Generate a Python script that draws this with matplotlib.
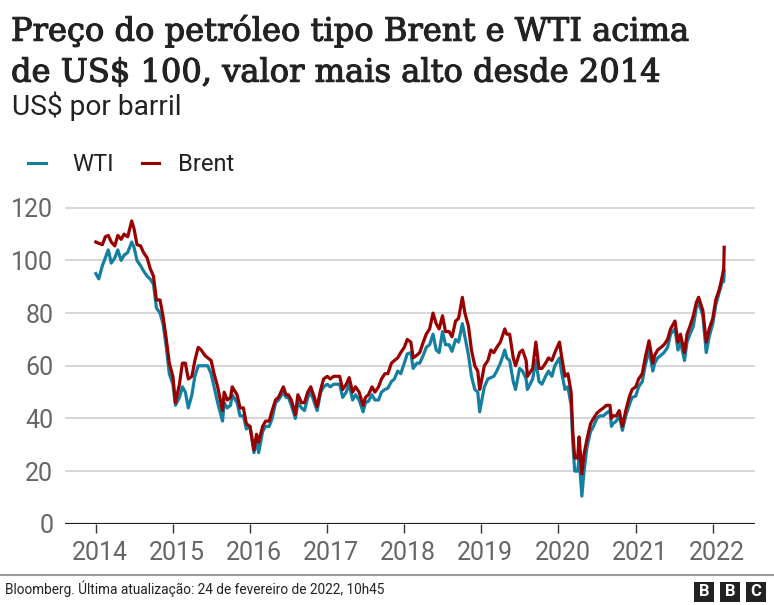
import pandas as pd
import matplotlib
matplotlib.use("Agg")
import matplotlib.pyplot as plt
import matplotlib.patches as patches
import matplotlib.dates as mdates
import matplotlib.patheffects as pe
from matplotlib.lines import Line2D
from matplotlib.transforms import ScaledTranslation

# semi-monthly readings of the chart (US$ per barrel)
dates = [
    "2014-01-01", "2014-01-15", "2014-02-01", "2014-02-15", "2014-03-01", "2014-03-15", "2014-04-01", "2014-04-15",
    "2014-05-01", "2014-05-15", "2014-06-01", "2014-06-20", "2014-07-01", "2014-07-15", "2014-08-01", "2014-08-15",
    "2014-09-01", "2014-09-15", "2014-10-01", "2014-10-15", "2014-11-01", "2014-11-15", "2014-12-01", "2014-12-15",
    "2015-01-01", "2015-01-13", "2015-02-01", "2015-02-15", "2015-03-01", "2015-03-15", "2015-04-01", "2015-04-15",
    "2015-05-01", "2015-05-15", "2015-06-01", "2015-06-15", "2015-07-01", "2015-07-15", "2015-08-01", "2015-08-24",
    "2015-09-01", "2015-09-15", "2015-10-01", "2015-10-09", "2015-11-01", "2015-11-15", "2015-12-01", "2015-12-15",
    "2016-01-01", "2016-01-20", "2016-02-01", "2016-02-11", "2016-03-01", "2016-03-15", "2016-04-01", "2016-04-15",
    "2016-05-01", "2016-05-15", "2016-06-07", "2016-06-20", "2016-07-01", "2016-07-15", "2016-08-03", "2016-08-15",
    "2016-09-01", "2016-09-15", "2016-10-01", "2016-10-15", "2016-11-01", "2016-11-14", "2016-12-01", "2016-12-15",
    "2017-01-01", "2017-01-15", "2017-02-01", "2017-02-15", "2017-03-01", "2017-03-15", "2017-04-01", "2017-04-15",
    "2017-05-01", "2017-05-15", "2017-06-01", "2017-06-20", "2017-07-01", "2017-07-15", "2017-08-01", "2017-08-15",
    "2017-09-01", "2017-09-15", "2017-10-01", "2017-10-15", "2017-11-01", "2017-11-15", "2017-12-01", "2017-12-15",
    "2018-01-01", "2018-01-15", "2018-02-01", "2018-02-12", "2018-03-01", "2018-03-15", "2018-04-01", "2018-04-15",
    "2018-05-01", "2018-05-17", "2018-06-01", "2018-06-15", "2018-07-01", "2018-07-15", "2018-08-01", "2018-08-15",
    "2018-09-01", "2018-09-15", "2018-10-03", "2018-10-15", "2018-11-01", "2018-11-15", "2018-12-01", "2018-12-15",
    "2018-12-24",
    "2019-01-01", "2019-01-15", "2019-02-01", "2019-02-15", "2019-03-01", "2019-03-15", "2019-04-01", "2019-04-22",
    "2019-05-01", "2019-05-15", "2019-06-01", "2019-06-12", "2019-07-01", "2019-07-15", "2019-08-01", "2019-08-07",
    "2019-09-01", "2019-09-16", "2019-10-01", "2019-10-15", "2019-11-01", "2019-11-15", "2019-12-01", "2019-12-15",
    "2020-01-06", "2020-01-15", "2020-02-01", "2020-02-15", "2020-03-01", "2020-03-09", "2020-03-18", "2020-04-01",
    "2020-04-08", "2020-04-21", "2020-04-30", "2020-05-15", "2020-06-01", "2020-06-15", "2020-07-01", "2020-07-15",
    "2020-08-01", "2020-08-15", "2020-09-01", "2020-09-08", "2020-09-15", "2020-10-01", "2020-10-15", "2020-10-30",
    "2020-11-15", "2020-12-01", "2020-12-15",
    "2021-01-01", "2021-01-15", "2021-02-01", "2021-02-15", "2021-03-05", "2021-03-23", "2021-04-01", "2021-04-15",
    "2021-05-01", "2021-05-15", "2021-06-01", "2021-06-15", "2021-07-06", "2021-07-20", "2021-08-01", "2021-08-20",
    "2021-09-01", "2021-09-15", "2021-10-01", "2021-10-15", "2021-10-26", "2021-11-15", "2021-12-01", "2021-12-15",
    "2022-01-01", "2022-01-15", "2022-02-01", "2022-02-15", "2022-02-22", "2022-02-24",
]

brent = [
    107, 106.5, 106, 109, 109.5, 107, 105.5, 109.5, 108, 110, 109, 115, 112, 106, 105.5, 103,
    101, 97, 94, 85, 85, 79, 70, 61,
    56, 46, 53, 61, 61, 55, 56, 62, 67, 66, 64, 63, 62, 57, 52, 43,
    50, 47, 48, 52, 49, 44, 44, 38,
    37, 28, 34, 31, 37, 39, 39, 43, 47, 48, 52, 49, 49, 47, 41.5, 49,
    46, 46, 50, 52, 48, 44.5, 51, 55,
    56, 55, 56, 56, 56, 51, 53, 55.5, 50, 52, 50, 45, 48, 49, 52, 50,
    52, 55, 57, 57, 61, 62, 63, 65,
    67, 70, 69, 63, 64, 65, 69, 72, 74, 80, 76, 74, 79, 73, 73, 71,
    77, 78, 86, 80, 75, 66, 60, 58, 51,
    54, 60, 62, 66, 65, 67, 69, 74, 72, 72, 63, 60, 65, 66, 62, 56,
    59, 69, 59, 59, 61, 63, 62, 65,
    69, 64, 56, 57, 50, 35, 25, 25, 33, 19, 26, 32, 38, 40, 42, 43,
    44, 45, 45, 40, 41, 41, 43, 37, 43, 48, 51,
    52, 55, 57, 63, 69.5, 61, 64, 66, 67, 68, 70, 74, 77, 69, 72, 65,
    72, 75, 79, 84, 86, 81, 69, 74,
    78, 85, 89, 94, 97, 105,
]

wti = [
    95, 93, 98, 101, 104, 99, 101, 104, 100, 102, 103, 107, 105, 100, 98, 96,
    94, 93, 91, 82, 80, 76, 67, 57,
    53, 45, 48, 52, 50, 44, 49, 56, 60, 60, 60, 60, 57, 52, 46, 39,
    46, 44, 45, 49, 46, 41, 41, 36,
    37, 27, 32, 27, 35, 37, 37, 40, 46, 47, 50, 48, 48, 45, 40, 46,
    44, 43, 48, 50, 46, 43, 50, 52,
    53, 52, 53, 53, 53, 48, 50, 53, 47, 49, 47, 42.5, 46, 46.5, 49, 47,
    47, 50, 51, 51.5, 54, 55, 58, 57,
    61, 64.5, 65, 59, 61, 61, 64, 67, 68, 72, 66, 65, 73, 68, 68, 65.5,
    70, 69, 76, 71, 64, 56, 51, 50, 42.5,
    46, 52, 55, 55.5, 56, 58, 61, 66, 63, 62, 54, 51, 59, 58, 55, 51,
    55, 62, 54, 53, 56, 58, 56, 60,
    63, 58, 51, 52, 45, 31, 20, 20, 25, 10.5, 19, 29, 35, 37, 40, 41,
    41, 42, 43, 37, 38, 39, 41, 35.5, 41, 45, 48,
    48.5, 52, 54, 60, 66, 58, 61, 63, 64, 65, 67, 72, 74, 66, 69, 62,
    69, 72, 75, 82, 84, 79, 65, 71,
    76, 83, 88, 92, 92, 96,
]

years = list(range(2014, 2023))
yticks = [0, 20, 40, 60, 80, 100, 120]

title_lines = ["Preço do petróleo tipo Brent e WTI acima",
               "de US$ 100, valor mais alto desde 2014"]
subtitle = "US$ por barril"
source = "Bloomberg. Última atualização: 24 de fevereiro de 2022, 10h45"

WTI_COLOR = "#1380A1"
BRENT_COLOR = "#990000"
TEXT = "#222222"
GREY = "#666666"

W, H = 774, 605
fig = plt.figure(figsize=(W / 100, H / 100), dpi=100)
fig.patch.set_facecolor("white")
plt.rcParams["font.family"] = ["Roboto", "DejaVu Sans"]


def fx(x):
    return x / W


def fy(y):
    return 1 - y / H


# plot area in pixels: x 65..755, y(0)=523.8, 2.633 px per dollar
ax = fig.add_axes([fx(65), fy(523.8), (755 - 65) / W, (523.8 - 202.5) / H])
d = pd.to_datetime(dates)
ax.plot(d, wti, color=WTI_COLOR, lw=2.3, solid_joinstyle="round", zorder=3)
ax.plot(d, brent, color=BRENT_COLOR, lw=2.3, solid_joinstyle="round", zorder=4)

ax.set_ylim(0, 122)
ax.set_xlim(pd.Timestamp("2013-08-08"), pd.Timestamp("2022-07-20"))
ax.set_yticks(yticks)
ax.set_xticks([pd.Timestamp(f"{y}-01-01") for y in years])
ax.xaxis.set_major_formatter(mdates.DateFormatter("%Y"))

for s in ax.spines.values():
    s.set_visible(False)
ax.grid(axis="y", color="#cccccc", lw=1.1)
ax.set_axisbelow(True)
ax.axhline(0, color="#222222", lw=2.3, zorder=5)

ax.tick_params(axis="y", length=0, pad=8.5, labelsize=18, labelcolor=GREY)
ax.tick_params(axis="x", length=6.5, width=1, color="#333333", pad=6,
               labelsize=18, labelcolor=GREY)
for lab in ax.get_xticklabels():
    lab.set_transform(lab.get_transform() + ScaledTranslation(0.04, 0, fig.dpi_scale_trans))

renderer = fig.canvas.get_renderer()


def fit(t, width):
    w = t.get_window_extent(renderer).width
    t.set_fontsize(t.get_fontsize() * width / w)


# title (regular serif thickened a little) and subtitle
medium = [pe.withStroke(linewidth=0.8, foreground=TEXT)]
t1 = fig.text(fx(11), fy(40.7), title_lines[0], family="DejaVu Serif",
              fontsize=22, color=TEXT, va="baseline", path_effects=medium)
fit(t1, 677)
t2 = fig.text(fx(11), fy(81.7), title_lines[1], family="DejaVu Serif",
              fontsize=t1.get_fontsize(), color=TEXT, va="baseline", path_effects=medium)
st = fig.text(fx(12), fy(115), subtitle, fontsize=18, color=TEXT, va="baseline")
fit(st, 170)

# legend
fig.add_artist(Line2D([fx(28), fx(46)], [fy(162.7), fy(162.7)], color=WTI_COLOR, lw=2.2))
fig.text(fx(72), fy(171), "WTI", fontsize=17, color=TEXT, va="baseline")
fig.add_artist(Line2D([fx(142), fx(159)], [fy(162.7), fy(162.7)], color=BRENT_COLOR, lw=2.2))
fig.text(fx(178), fy(171), "Brent", fontsize=17, color=TEXT, va="baseline")

# footer
fig.add_artist(Line2D([0, 1], [fy(575), fy(575)], color="#999999", lw=1.5))
src = fig.text(fx(5), fy(589), source, fontsize=12, color=TEXT, va="center",
               family=["Liberation Sans Narrow", "Roboto", "DejaVu Sans"])
fit(src, 378)
for i, letter in enumerate("BBC"):
    x0 = 694 + i * 26
    fig.add_artist(patches.Rectangle((fx(x0), fy(602)), 20 / W, 20 / H,
                                     transform=fig.transFigure, facecolor="#222222",
                                     edgecolor="none"))
    fig.text(fx(x0 + 10), fy(592), letter, fontsize=12, fontweight="bold",
             color="white", ha="center", va="center")

fig.savefig("out.png", dpi=100)
